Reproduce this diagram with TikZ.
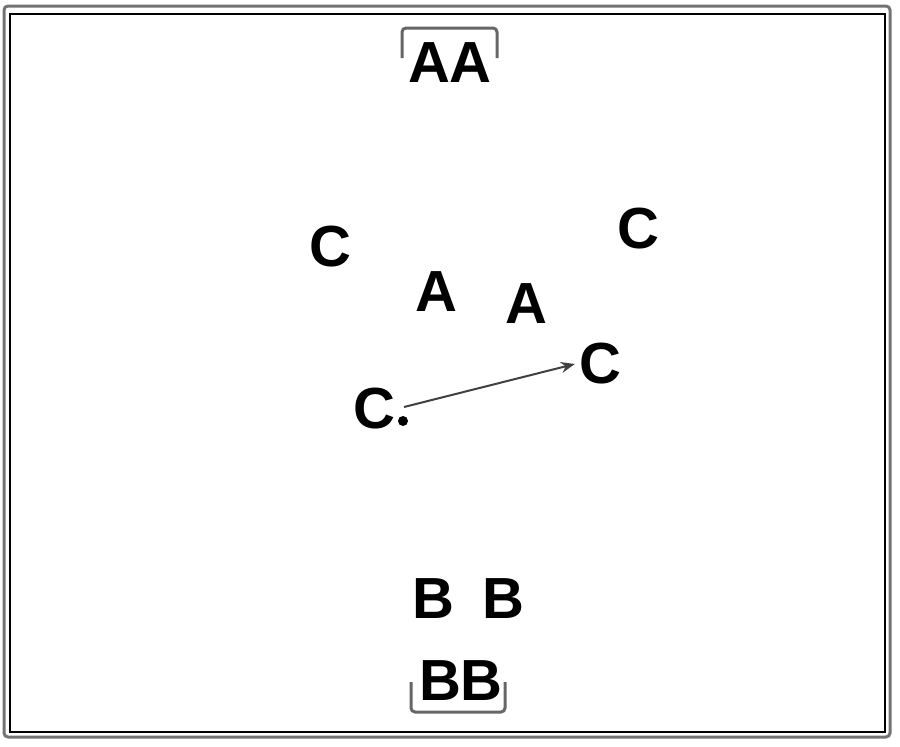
\documentclass[tikz,border=0pt]{standalone}
\usepackage{fontspec}
\setmainfont{Liberation Sans}
\usetikzlibrary{arrows.meta}
\tikzset{
  letter/.style={inner sep=0pt, font=\fontsize{58}{58}\selectfont\bfseries, text=black},
  brk/.style={draw=black!60, line width=3pt, rounded corners=4pt},
  link/.style={draw=black!75, line width=2pt, -{Stealth[length=14pt,width=11pt]}}
}
\begin{document}
\begin{tikzpicture}[x=1pt,y=-1pt]
\useasboundingbox (0,0) rectangle (900,747);
\draw[draw=black!55, line width=3pt, rounded corners=4pt] (4,6) rectangle (890,737);
\draw[draw=black, line width=1.5pt] (10,14) rectangle (885,732);
% top
\node[letter] (aa) at (450,63) {AA};
\draw[brk] (402,58) -- (402,28) -- (497,28) -- (497,58);
% middle
\node[letter] (c1) at (330,247) {C};
\node[letter] (c2) at (638,229) {C};
\node[letter] (a1) at (436,292) {A};
\node[letter] (a2) at (526,304) {A};
\node[letter] (c3) at (374,409) {C};
\node[letter] (c4) at (600,364) {C};
\node[circle, fill=black, inner sep=0pt, minimum size=10pt] (dot) at (403,421) {};
\coordinate (s) at (404,407);
\draw[link] (s) -- ([xshift=-4pt]c4.west);
% bottom
\node[letter] (b1) at (433,599) {B};
\node[letter] (b2) at (503,599) {B};
\node[letter] (bb) at (461,681) {BB};
\draw[brk] (411,682) -- (411,712) -- (505,712) -- (505,682);
\end{tikzpicture}
\end{document}
